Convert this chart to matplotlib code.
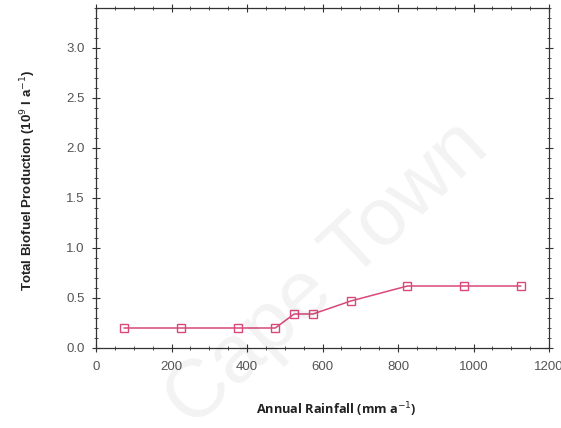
import matplotlib
matplotlib.use("Agg")
import matplotlib.pyplot as plt
from matplotlib.ticker import MultipleLocator

rainfall = [75, 225, 375, 475, 525, 575, 675, 825, 975, 1125]
production = [0.20, 0.20, 0.20, 0.20, 0.34, 0.34, 0.47, 0.62, 0.62, 0.62]
xticks = [0, 200, 400, 600, 800, 1000, 1200]
yticks = [0.0, 0.5, 1.0, 1.5, 2.0, 2.5, 3.0]

plt.rcParams['font.family'] = ['Liberation Sans', 'DejaVu Sans']

fig = plt.figure(figsize=(5.61, 4.28), dpi=100)
ax = fig.add_axes([96/561, 1-348/428, (549-96)/561, (348-8)/428])

color = '#d9487a'
ax.plot(rainfall, production, color=color, lw=1.1, marker='s', ms=5.5,
        mfc='none', mec=color, mew=1.0)

ax.set_xlim(0, 1200)
ax.set_ylim(0, 3.4)
ax.set_xticks(xticks)
ax.set_yticks(yticks)
ax.set_xticklabels([str(v) for v in xticks])
ax.set_yticklabels([f"{v:.1f}" for v in yticks])
ax.xaxis.set_minor_locator(MultipleLocator(50))
ax.yaxis.set_minor_locator(MultipleLocator(0.1))
ax.tick_params(which='major', direction='inout', length=6, width=0.8,
               labelsize=9.5, labelcolor='#555555', color='#333333', top=True, right=True)
ax.tick_params(which='minor', direction='inout', length=3, width=0.6,
               color='#333333', top=True, right=True)
ax.tick_params(axis='x', which='major', pad=6)
ax.tick_params(axis='y', which='major', pad=5)
for s in ax.spines.values():
    s.set_color('#333333')
    s.set_linewidth(0.9)

fig.text(28/561, 1-180/428, 'Total Biofuel Production (10$^9$ l a$^{-1}$)',
         rotation=90, ha='center', va='center', fontsize=9.5, fontweight='bold', color='#222222')
fig.text(336/561, 1-410/428, 'Annual Rainfall (mm a$^{-1}$)', family=['Open Sans', 'DejaVu Sans'],
         ha='center', va='center', fontsize=9.2, fontweight='bold', color='#222222')

fig.text(328/561, 1-275/428, 'Cape Town', rotation=43, ha='center', va='center',
         fontsize=59, color='#000000', alpha=0.05, zorder=0)

fig.savefig('out.png', dpi=100)
